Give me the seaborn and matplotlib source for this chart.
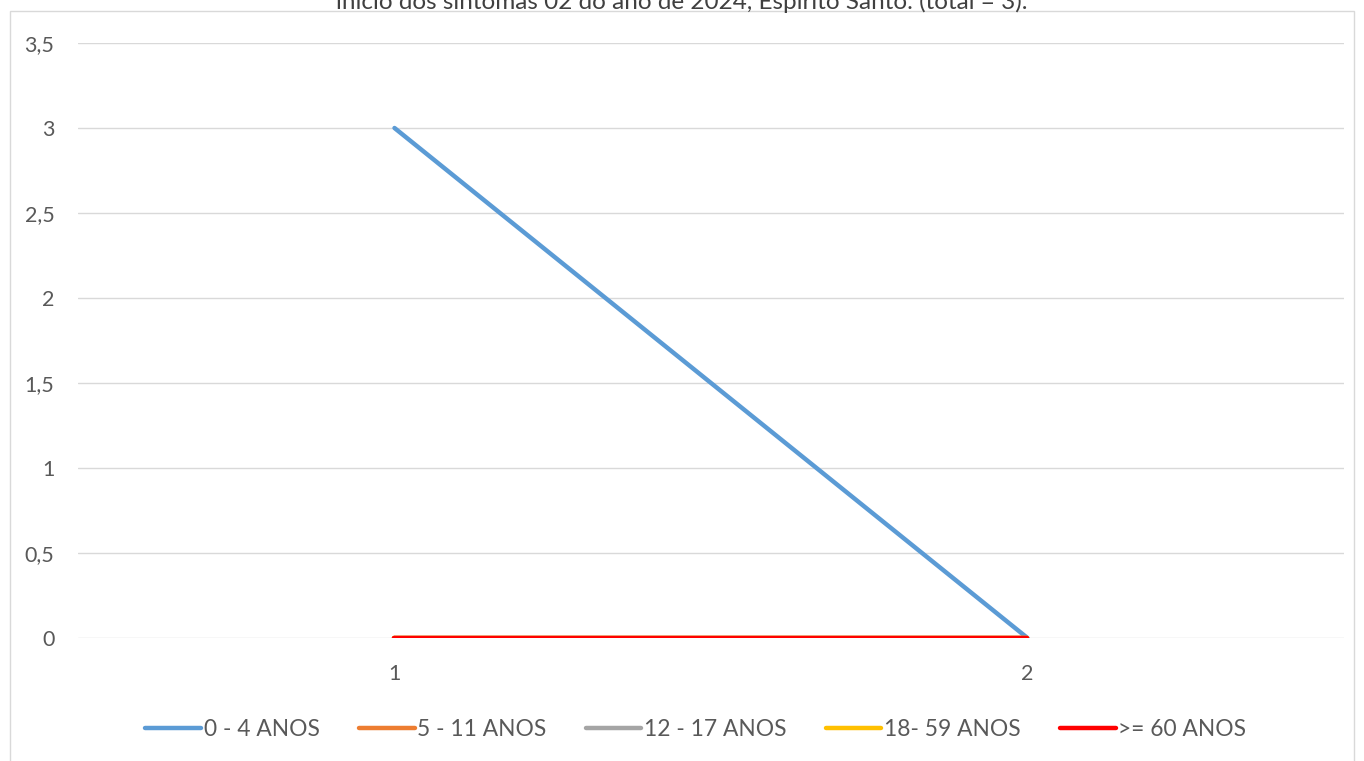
import matplotlib
matplotlib.use("Agg")
import matplotlib.pyplot as plt
import seaborn as sns
import pandas as pd
from matplotlib.patches import Rectangle

sns.set_theme(style="white")
plt.rcParams['font.family'] = ['Lato', 'DejaVu Sans']

semanas = [1, 2]
s_0_4 = [3, 0]
s_5_11 = [0, 0]
s_12_17 = [0, 0]
s_18_59 = [0, 0]
s_60 = [0, 0]
series_names = ["0 - 4 ANOS", "5 - 11 ANOS", "12 - 17 ANOS", "18- 59 ANOS", ">= 60 ANOS"]
series_vals = [s_0_4, s_5_11, s_12_17, s_18_59, s_60]
colors = ["#5B9BD5", "#ED7D31", "#A5A5A5", "#FFC000", "#FF0000"]
yticks = [0, 0.5, 1, 1.5, 2, 2.5, 3, 3.5]
ytick_labels = ["0", "0,5", "1", "1,5", "2", "2,5", "3", "3,5"]
title = "início dos sintomas 02 do ano de 2024, Espírito Santo. (total = 3)."

rows = []
for name, vals in zip(series_names, series_vals):
    for x, v in zip(semanas, vals):
        rows.append({"semana": x, "casos": v, "faixa": name})
df = pd.DataFrame(rows)

W, H = 1364, 761
fig = plt.figure(figsize=(W / 100, H / 100), dpi=100)
ax = fig.add_axes([78 / W, 1 - 638 / H, (1344 - 78) / W, (638 - 43) / H])

sns.lineplot(data=df, x="semana", y="casos", hue="faixa", hue_order=series_names,
             palette=colors, linewidth=3.2, ax=ax, legend=False,
             solid_capstyle="round")

ax.set_xlim(0.5, 2.5)
ax.set_ylim(0, 3.5)
ax.set_yticks(yticks)
ax.set_yticklabels(ytick_labels)
ax.set_xticks(semanas)
ax.set_xticklabels([str(s) for s in semanas])
ax.set_xlabel("")
ax.set_ylabel("")
for sp in ax.spines.values():
    sp.set_visible(False)
ax.yaxis.grid(True, color="#D9D9D9", linewidth=1)
ax.set_axisbelow(True)
ax.tick_params(axis="both", length=0, labelsize=15.5, colors="#595959")
ax.tick_params(axis="y", pad=17)
ax.tick_params(axis="x", pad=19)

handles = [plt.Line2D([0], [0], color=c, linewidth=3.2, solid_capstyle="round") for c in colors]
fig.legend(handles, series_names, loc="center", bbox_to_anchor=(0.51, 1 - 729 / H),
           ncol=5, frameon=False, fontsize=16.4, handlelength=2.45, handletextpad=0.1,
           columnspacing=1.73, labelcolor="#595959")

fig.text(0.5, 1 - 9 / H, title, ha="center", va="baseline", fontsize=17.5, color="#404040")

fig.patches.append(Rectangle((10 / W, -0.01), (1354 - 10) / W, 1 - 11 / H + 0.01,
                             transform=fig.transFigure, fill=False,
                             edgecolor="#D9D9D9", linewidth=1))

fig.savefig("out.png", dpi=100)
